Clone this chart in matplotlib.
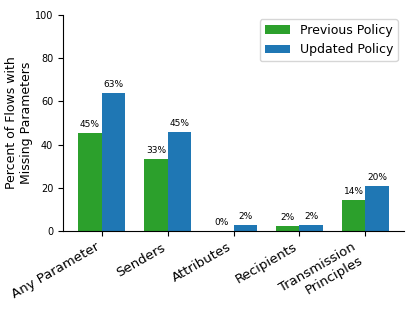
import matplotlib
matplotlib.use("Agg")
import matplotlib.pyplot as plt
import numpy as np

categories = ["Any Parameter", "Senders", "Attributes", "Recipients", "Transmission\nPrinciples"]
previous = [45.3, 33.3, 0.0, 2.2, 14.3]
updated = [63.9, 45.9, 2.6, 2.6, 20.8]
prev_labels = ["45%", "33%", "0%", "2%", "14%"]
upd_labels = ["63%", "45%", "2%", "2%", "20%"]

fig = plt.figure(figsize=(4.17, 3.13), dpi=100)
ax = fig.add_axes([0.151, 0.262, 0.818, 0.690])
x = np.arange(len(categories))
w = 0.35
b1 = ax.bar(x - w/2, previous, w, color="#2ca02c", label="Previous Policy")
b2 = ax.bar(x + w/2, updated, w, color="#1f77b4", label="Updated Policy")
for rects, labs in ((b1, prev_labels), (b2, upd_labels)):
    for r, t in zip(rects, labs):
        ax.annotate(t, (r.get_x() + r.get_width()/2, r.get_height()),
                    xytext=(0, 3), textcoords="offset points",
                    ha="center", va="bottom", fontsize=6.5)
ax.set_ylim(0, 100)
ax.set_xticks(x)
ax.set_xticklabels(categories, rotation=30, ha="right", fontsize=9.5)
ax.tick_params(axis="y", labelsize=7)
ax.set_ylabel("Percent of Flows with\nMissing Parameters", fontsize=9, labelpad=1)
ax.spines["top"].set_visible(False)
ax.spines["right"].set_visible(False)
ax.legend(fontsize=9, loc="upper right", bbox_to_anchor=(0.982, 0.981), borderaxespad=0)
fig.savefig("out.png", dpi=100)
